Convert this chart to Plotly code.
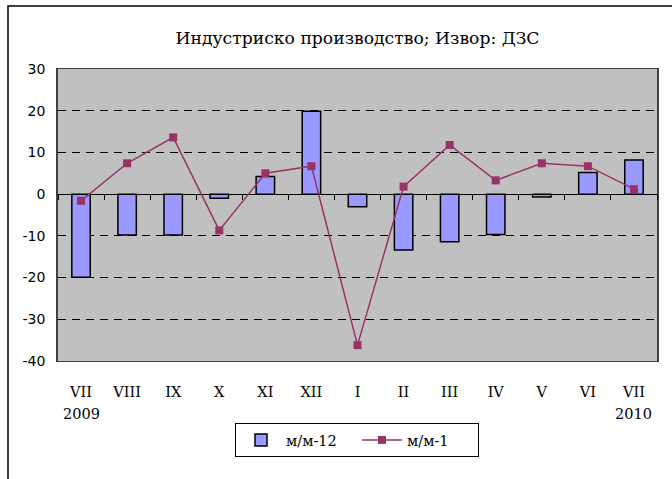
import plotly.graph_objects as go

categories = ["VII 2009", "VIII", "IX", "X", "XI", "XII", "I", "II", "III", "IV", "V", "VI", "VII 2010"]
month_labels = ["VII", "VIII", "IX", "X", "XI", "XII", "I", "II", "III", "IV", "V", "VI", "VII"]
year_labels = ["2009", "2010"]
mm12 = [-19.9, -9.8, -9.8, -1.0, 4.2, 19.9, -3.0, -13.4, -11.4, -9.7, -0.7, 5.2, 8.2]
mm1 = [-1.6, 7.4, 13.6, -8.7, 5.0, 6.7, -36.2, 1.8, 11.8, 3.3, 7.4, 6.7, 1.2]
y_ticks = [30, 20, 10, 0, -10, -20, -30, -40]
y_tick_text = ["30", "20", "10", "0", "-10", "-20", "-30", "-40"]
title_text = "Индустриско производство; Извор: ДЗС"

W, H = 672, 479
L, R, T, B = 58, 15, 69, 118
pw, ph = W - L - R, H - T - B

serif = "DejaVu Serif"

fig = go.Figure()
fig.add_trace(go.Bar(
    x=categories, y=mm12, name="м/м-12",
    marker=dict(color="#9999FF", line=dict(color="black", width=1.5)),
))
fig.add_trace(go.Scatter(
    x=categories, y=mm1, name="м/м-1", mode="lines+markers",
    line=dict(color="#993366", width=1.5),
    marker=dict(symbol="square", size=8, color="#993366"),
))
# invisible helper trace to hold the zero-line tick axis
fig.add_trace(go.Scatter(
    x=categories, y=[None] * len(categories), xaxis="x2", showlegend=False,
    hoverinfo="skip", mode="lines",
))

zero_pos = (0 - y_ticks[-1]) / (y_ticks[0] - y_ticks[-1])

fig.update_layout(
    width=W, height=H,
    margin=dict(l=L, r=R, t=T, b=B, autoexpand=False),
    paper_bgcolor="white",
    plot_bgcolor="#C0C0C0",
    bargap=0.6,
    title=dict(text=title_text, x=(L + pw / 2) / W, xanchor="center",
               y=1 - 38 / H, yanchor="middle",
               font=dict(family=serif, size=17.2, color="black")),
    xaxis=dict(
        type="category", categoryorder="array", categoryarray=categories,
        tickvals=categories, ticktext=month_labels,
        tickfont=dict(family=serif, size=14.5, color="black"),
        ticks="", ticklabelstandoff=18, automargin=False,
        showgrid=False, showline=True, linecolor="#404040", linewidth=1, mirror=True,
        range=[-0.5, len(categories) - 0.5],
    ),
    xaxis2=dict(
        type="category", categoryorder="array", categoryarray=categories,
        overlaying="x", anchor="free", position=zero_pos,
        tickson="boundaries", ticks="outside", ticklen=5, tickcolor="black",
        showticklabels=False, showgrid=False, showline=False, zeroline=False,
        range=[-0.5, len(categories) - 0.5], automargin=False,
    ),
    yaxis=dict(
        range=[y_ticks[-1], y_ticks[0]], tickvals=y_ticks, ticktext=y_tick_text,
        tickfont=dict(family="DejaVu Sans", size=14, color="black"),
        ticks="", ticklabelstandoff=8, automargin=False,
        showgrid=True, gridcolor="black", gridwidth=1, griddash="8px,6px",
        zeroline=True, zerolinecolor="black", zerolinewidth=1,
        showline=True, linecolor="#404040", linewidth=1.5, mirror=True,
    ),
    legend=dict(
        orientation="h", x=(357 - L) / pw, xanchor="center",
        y=(T + ph - 440) / ph, yanchor="middle",
        bgcolor="white", bordercolor="black", borderwidth=1,
        itemwidth=40, entrywidth=66, tracegroupgap=0,
        font=dict(family=serif, size=14.5, color="black"),
    ),
    showlegend=True,
)

fig.add_annotation(x=categories[0], y=(T + ph - 414) / ph, xref="x", yref="paper",
                   text=year_labels[0], showarrow=False, yanchor="middle",
                   font=dict(family=serif, size=14.5, color="black"))
fig.add_annotation(x=categories[-1], y=(T + ph - 414) / ph, xref="x", yref="paper",
                   text=year_labels[1], showarrow=False, yanchor="middle",
                   font=dict(family=serif, size=14.5, color="black"))

# outer chart border (extends beyond the visible canvas at right and bottom)
fig.add_shape(type="rect", xref="paper", yref="paper",
              x0=(8 - L) / pw, x1=(W + 20 - L) / pw,
              y0=(T + ph - (H + 20)) / ph, y1=(T + ph - 6) / ph,
              line=dict(color="black", width=1.5), fillcolor="rgba(0,0,0,0)", layer="below")

fig.write_html("out.html", config={"displayModeBar": False},
               post_script="document.body.style.margin='0';document.body.style.overflow='hidden';")
